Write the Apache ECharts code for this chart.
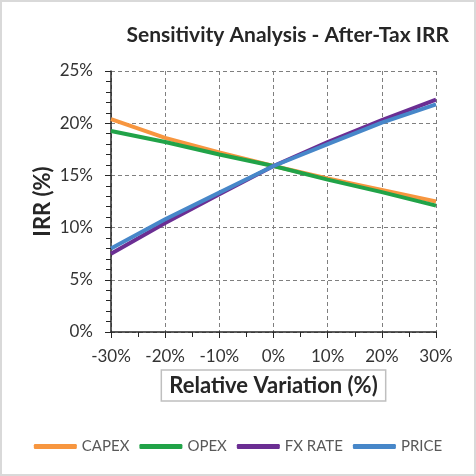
<!DOCTYPE html>
<html>
<head>
<meta charset="utf-8">
<script src="https://cdn.jsdelivr.net/npm/echarts@6/dist/echarts.min.js"></script>
<style>
  html, body { margin: 0; padding: 0; background: #fff; }
  #chart { width: 476px; height: 476px; }
</style>
</head>
<body>
<div id="chart"></div>
<script>
// relative variation (%) and IRR (%) per parameter
const variations = [-30, -20, -10, 0, 10, 20, 30];
const capex = [20.4, 18.6, 17.2, 15.9, 14.7, 13.6, 12.5];
const opex = [19.25, 18.2, 17.0, 15.9, 14.6, 13.4, 12.1];
const fxRate = [7.5, 10.45, 13.2, 15.9, 18.2, 20.3, 22.25];
const price = [8.0, 10.8, 13.35, 15.9, 18.0, 20.05, 21.8];

const names = ['CAPEX', 'OPEX', 'FX RATE', 'PRICE'];
const colors = ['#F7963F', '#21A348', '#6B2E93', '#4787C9'];
const values = [capex, opex, fxRate, price];

const font = 'Lato, "Open Sans", sans-serif';
const chart = echarts.init(document.getElementById('chart'));

chart.setOption({
  animation: false,
  backgroundColor: '#fff',
  textStyle: { fontFamily: font },
  graphic: [{
    type: 'rect',
    shape: { x: 1, y: 1, width: 474, height: 474 },
    style: { fill: 'none', stroke: '#d9d9d9', lineWidth: 2 }
  }],
  title: {
    text: 'Sensitivity Analysis - After-Tax IRR',
    right: 22,
    top: 20,
    textStyle: { fontFamily: font, fontSize: 21, fontWeight: 'bold', color: '#262626' }
  },
  legend: {
    data: names,
    top: 434,
    left: 'center',
    icon: 'roundRect',
    itemWidth: 43,
    itemHeight: 5,
    itemGap: 10,
    textStyle: { fontFamily: font, fontSize: 15, color: '#595959' }
  },
  grid: { left: 111, right: 40, top: 71, bottom: 144 },
  xAxis: {
    type: 'value',
    min: -30, max: 30, interval: 10,
    name: 'Relative Variation (%)',
    nameLocation: 'middle',
    nameGap: 38,
    nameMoveOverlap: false,
    nameTextStyle: {
      fontFamily: font, fontSize: 22, fontWeight: 'bold', color: '#262626',
      borderColor: '#bfbfbf', borderWidth: 1.5, padding: [5, 8, 4, 8]
    },
    axisLine: { onZero: false, lineStyle: { color: '#262626', width: 1.5 } },
    axisTick: { show: true, length: 6, lineStyle: { color: '#262626' } },
    minorTick: { show: true, splitNumber: 2, length: 5, lineStyle: { color: '#262626' } },
    axisLabel: { formatter: '{value}%', fontSize: 17, color: '#333', margin: 16 },
    splitLine: { show: true, lineStyle: { color: '#7f7f7f', type: [4, 3], width: 1 } }
  },
  yAxis: {
    type: 'value',
    min: 0, max: 25, interval: 5,
    name: 'IRR (%)',
    nameLocation: 'middle',
    nameGap: 57,
    nameMoveOverlap: false,
    nameTextStyle: { fontFamily: font, fontSize: 22, fontWeight: 'bold', color: '#262626' },
    axisLine: { show: true, onZero: false, lineStyle: { color: '#262626', width: 1.5 } },
    axisTick: { show: true, length: 6, lineStyle: { color: '#262626' } },
    minorTick: { show: true, splitNumber: 5, length: 5, lineStyle: { color: '#262626' } },
    axisLabel: { formatter: '{value}%', fontSize: 17, color: '#333', margin: 18 },
    splitLine: { show: true, lineStyle: { color: '#7f7f7f', type: [4, 3], width: 1 } }
  },
  series: names.map((n, i) => ({
    name: n,
    type: 'line',
    symbol: 'none',
    color: colors[i],
    lineStyle: { width: 4, color: colors[i] },
    data: variations.map((x, j) => [x, values[i][j]])
  }))
});
</script>
</body>
</html>
